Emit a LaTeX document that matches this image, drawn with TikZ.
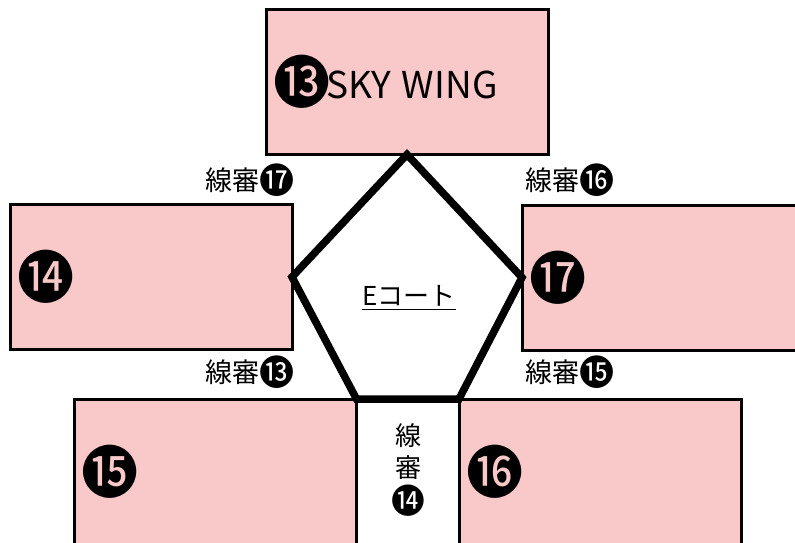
\documentclass[tikz,border=0pt]{standalone}
\usepackage{fontspec}
\setmainfont{Noto Sans CJK JP}
\definecolor{courtpink}{RGB}{249,200,201}
\newcommand{\cnum}[1]{\raisebox{-0.12em}{\scalebox{1.3}{#1}}}

\begin{document}
\begin{tikzpicture}[x = 1pt, y = -1pt,
	area/.style = {draw, line width = 3pt, fill = courtpink, outer sep = 0pt,
		minimum height = 145pt, text width = 268pt, inner xsep = 7pt, align = left},
	judge/.style = {font = \fontsize{27}{30}\selectfont, inner sep = 0pt},
	num/.style = {font = \fontsize{44}{44}\selectfont}]

	\useasboundingbox (0, 0) rectangle (795, 542);
	\clip (0, 0) rectangle (795, 542);

	% Areas round the court

	\node [area, num] (sky) at (407, 82) {\cnum{⓭}\hspace{-0.08em}{\fontsize{37}{37}\selectfont SKY\hspace{0.28em}WING}};
	\node [area, num] (area14) at (151, 277) {\cnum{⓮}};
	\node [area, num] (area17) at (663, 277.5) {\cnum{⓱}};
	\node [area, num] (area15) at (215.5, 471.5) {\cnum{⓯}};
	\node [area, num] (area16) at (600, 471.5) {\cnum{⓰}};

	% Court outline

	\draw [line width = 7.5pt] (sky.south) -- (area17.west) -- (area16.north west)
		-- (area15.north east) -- (area14.east) -- cycle;

	% Line judges

	\node [judge] (judge17) at (250, 180) {線審\cnum{⓱}};
	\node [judge] (judge16) at (570, 180) {線審\cnum{⓰}};
	\node [judge] (judge13) at (250, 372) {線審\cnum{⓭}};
	\node [judge] (judge15) at (570, 372) {線審\cnum{⓯}};
	\node [judge, align = center, font = \fontsize{26}{32}\selectfont] (judge14) at (408, 470) {線\\審\\\cnum{⓮}};

	% Court name

	\node [font = \fontsize{26}{30}\selectfont] (ecourt) at (409, 296) {\underline{Eコート\rule[-0.1em]{0pt}{1em}}};

\end{tikzpicture}
\end{document}
